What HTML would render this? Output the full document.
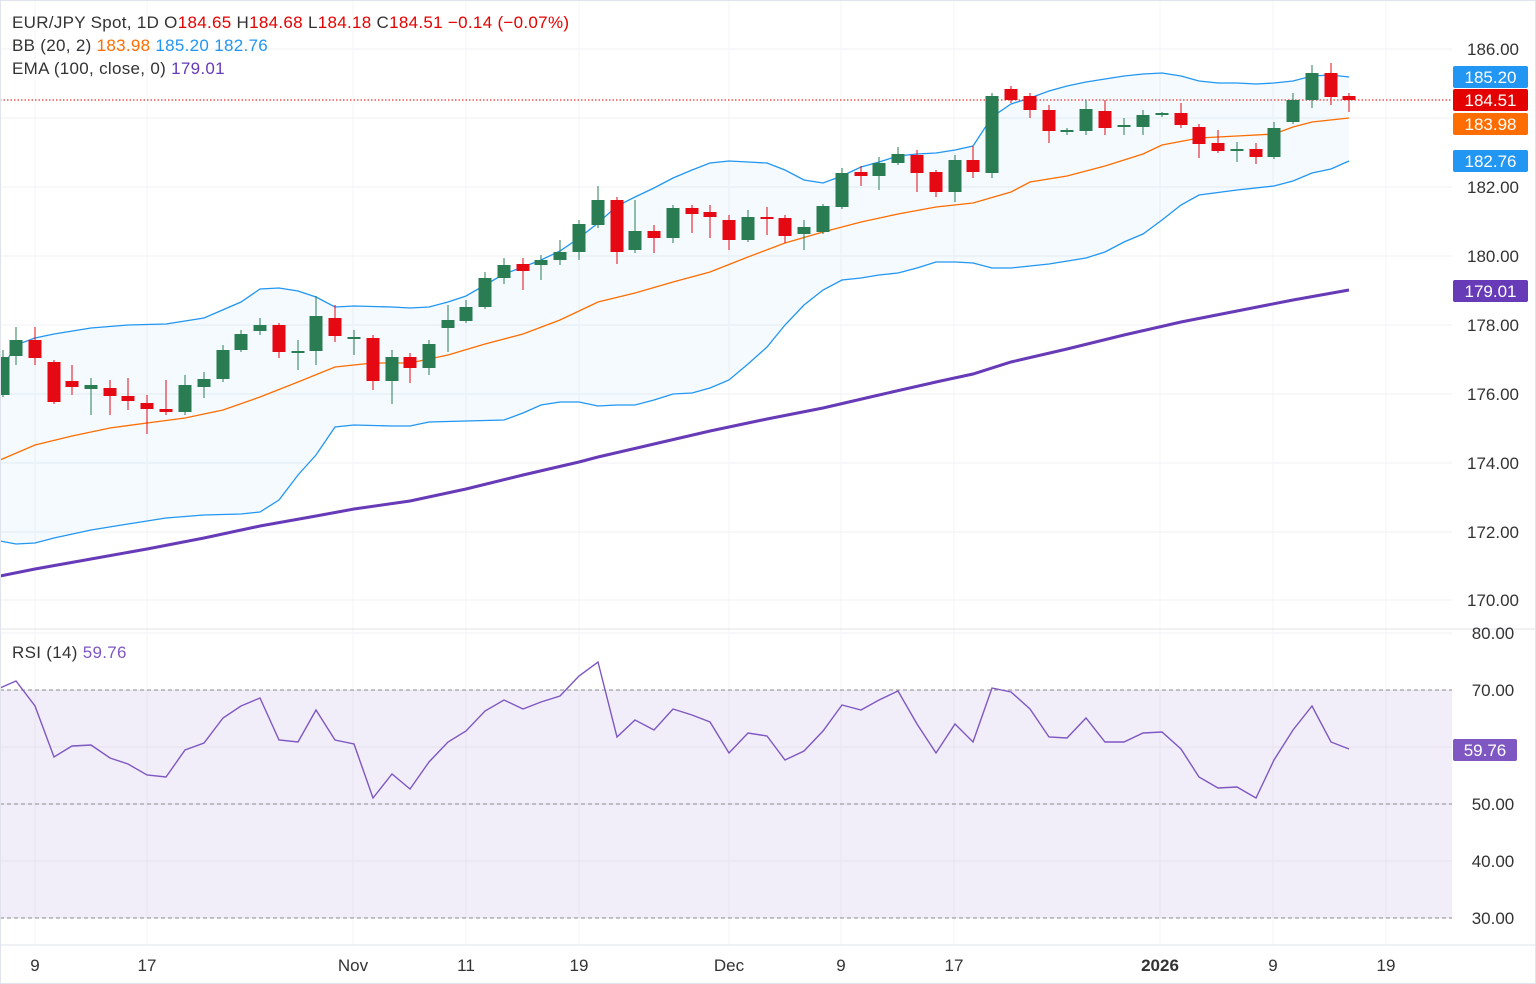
<!DOCTYPE html>
<html><head><meta charset="utf-8"><style>
html,body{margin:0;padding:0;background:#fff;}
svg{display:block;font-family:"Liberation Sans",sans-serif;}
</style></head><body>
<svg id="s" width="1536" height="984" viewBox="0 0 1536 984" xmlns="http://www.w3.org/2000/svg"></svg>
<script>
const s=document.getElementById('s');let h='';
const py=[49,118,187,256,325,394,463,532,600];
py.forEach(y=>h+=`<line x1="0" x2="1452" y1="${y}" y2="${y}" stroke="#f0f1f4"/>`);
[633,690,747,804,861,918].forEach(y=>h+=`<line x1="0" x2="1452" y1="${y}" y2="${y}" stroke="#f0f1f4"/>`);
const tx=[35,147,353,466,579,729,841,954,1160,1273,1386];
tx.forEach(x=>h+=`<line x1="${x}" x2="${x}" y1="0" y2="945" stroke="#f3f4f6"/>`);
h+=`<line x1="0" x2="1536" y1="629" y2="629" stroke="#e0e3eb"/>`;
h+=`<line x1="0" x2="1536" y1="945" y2="945" stroke="#e0e3eb"/>`;
const P=a=>a.map(p=>p.join(',')).join(' ');
const up=[[0,372],[16,345],[35,338],[54,334],[91,328],[128,325],[166,324],[204,318],[241,302],[260,289],[279,288],[298,291],[316,297],[335,307],[354,306],[392,307],[410,308],[429,307],[448,302],[466,296],[485,285],[504,274],[523,267],[541,260],[560,251],[579,238],[598,223],[617,206],[635,197],[654,188],[673,178],[692,170],[710,163],[729,161],[748,162],[767,163],[785,170],[804,180],[823,183],[842,176],[861,167],[879,162],[898,156],[917,154],[936,153],[955,150],[973,146],[992,117],[1011,104],[1030,98],[1049,91],[1067,86],[1086,82],[1105,79],[1124,76],[1143,74],[1162,73],[1181,76],[1199,81],[1218,83],[1237,83],[1256,84],[1274,83],[1293,81],[1312,76],[1331,75],[1349,77]];
const lo=[[0,541],[16,544],[35,543],[54,538],[91,530],[128,524],[166,518],[204,515],[241,514],[260,512],[279,500],[298,475],[316,455],[335,427],[354,425],[392,426],[410,426],[429,422],[466,421],[504,420],[523,413],[541,405],[560,402],[579,402],[598,406],[617,405],[635,405],[654,400],[673,394],[692,393],[710,388],[729,380],[748,364],[767,347],[785,325],[804,305],[823,290],[842,280],[861,278],[879,275],[898,273],[917,268],[936,262],[955,262],[973,263],[992,268],[1011,268],[1030,266],[1049,264],[1086,258],[1105,252],[1124,242],[1143,234],[1162,220],[1181,205],[1199,195],[1237,190],[1274,186],[1293,181],[1312,173],[1331,169],[1349,161]];
const mid=[[0,460],[35,445],[72,436],[110,428],[147,423],[185,418],[223,410],[260,397],[298,382],[335,367],[373,363],[410,363],[448,355],[485,344],[523,334],[560,320],[598,302],[635,293],[673,282],[710,272],[748,257],[785,243],[823,232],[861,222],[898,214],[936,207],[973,203],[1011,192],[1030,182],[1067,176],[1105,166],[1143,154],[1162,145],[1199,138],[1237,136],[1274,134],[1293,127],[1312,122],[1349,118]];
const ema=[[0,576],[35,569],[91,559],[147,549],[204,538],[260,526],[316,516],[354,509],[410,501],[466,489],[523,475],[579,462],[598,457],[654,444],[710,431],[767,419],[823,408],[879,395],[936,382],[973,374],[1011,362],[1067,349],[1124,335],[1181,322],[1237,311],[1293,300],[1349,290]];
h+=`<polygon points="${P(up)} ${P(lo.slice().reverse())}" fill="#2196f3" fill-opacity="0.05"/>`;
h+=`<polyline points="${P(up)}" fill="none" stroke="#2196f3" stroke-width="1.3"/>`;
h+=`<polyline points="${P(lo)}" fill="none" stroke="#2196f3" stroke-width="1.3"/>`;
h+=`<polyline points="${P(mid)}" fill="none" stroke="#ff6d00" stroke-width="1.3"/>`;
h+=`<polyline points="${P(ema)}" fill="none" stroke="#673ab7" stroke-width="3"/>`;
h+=`<line x1="0" x2="1452" y1="100" y2="100" stroke="#e00" stroke-dasharray="1.5,2"/>`;
const C=[[3,357,395,350,397,'g'],[16,340,356,327,365,'g'],[35,340,358,327,365,'r'],[54,362,402,360,404,'r'],[72,381,387,365,395,'r'],[91,385,389,378,415,'g'],[110,388,396,380,415,'r'],[128,396,401,378,410,'r'],[147,403,409,395,434,'r'],[166,409,412,380,415,'r'],[185,385,412,375,415,'g'],[204,379,387,372,398,'g'],[223,350,379,345,382,'g'],[241,334,350,330,352,'g'],[260,325,331,318,335,'g'],[279,325,352,323,358,'r'],[298,351,353,340,370,'g'],[316,316,351,296,365,'g'],[335,318,336,305,342,'r'],[354,337,339,330,355,'g'],[373,338,381,335,390,'r'],[392,357,381,350,404,'g'],[410,357,368,353,383,'r'],[429,344,368,340,375,'g'],[448,320,328,305,352,'g'],[466,307,321,300,323,'g'],[485,278,307,272,309,'g'],[504,265,278,258,284,'g'],[523,264,271,258,290,'r'],[541,260,265,255,280,'g'],[560,252,260,240,265,'g'],[579,224,252,220,260,'g'],[598,200,225,186,228,'g'],[617,200,252,197,264,'r'],[635,231,250,200,253,'g'],[654,231,238,225,253,'r'],[673,208,238,205,243,'g'],[692,208,214,205,233,'r'],[710,212,217,205,238,'r'],[729,220,240,215,250,'r'],[748,217,240,210,242,'g'],[767,217,219,207,235,'r'],[785,218,236,215,243,'r'],[804,227,234,220,250,'g'],[823,206,232,204,234,'g'],[842,173,207,168,209,'g'],[861,172,176,166,186,'r'],[879,163,176,157,190,'g'],[898,154,163,147,165,'g'],[917,155,173,150,192,'r'],[936,172,192,170,197,'r'],[955,160,192,155,202,'g'],[973,160,172,146,178,'r'],[992,96,173,93,178,'g'],[1011,89,100,86,103,'r'],[1030,96,110,93,118,'r'],[1049,110,131,105,143,'r'],[1067,130,132,128,135,'g'],[1086,109,131,100,135,'g'],[1105,111,128,100,135,'r'],[1124,125,127,118,135,'g'],[1143,115,127,110,135,'g'],[1162,113,115,112,117,'g'],[1181,113,125,103,128,'r'],[1199,127,144,124,158,'r'],[1218,143,151,130,153,'r'],[1237,149,151,142,162,'g'],[1256,149,157,143,164,'r'],[1274,128,157,122,159,'g'],[1293,100,122,93,124,'g'],[1312,73,100,65,108,'g'],[1331,73,97,63,105,'r'],[1349,96,100,93,112,'r']];
C.forEach(c=>{const col=c[5]=='g'?'#2a7d52':'#e50914';
h+=`<line x1="${c[0]}" x2="${c[0]}" y1="${c[3]}" y2="${c[4]}" stroke="${col}" stroke-width="1"/>`;
h+=`<rect x="${c[0]-6.5}" y="${c[1]}" width="13" height="${Math.max(1.5,c[2]-c[1])}" fill="${col}"/>`;});
h+=`<rect x="0" y="690" width="1452" height="228" fill="#7e57c2" fill-opacity="0.1"/>`;
[690,804,918].forEach(y=>h+=`<line x1="0" x2="1452" y1="${y}" y2="${y}" stroke="#8a8a8a" stroke-dasharray="4,3"/>`);
const rsi=[[0,688],[16,681],[35,706],[54,757],[72,746],[91,745],[110,758],[128,764],[147,775],[166,777],[185,750],[204,743],[223,718],[241,706],[260,698],[279,740],[298,742],[316,710],[335,740],[354,744],[373,798],[392,774],[410,789],[429,762],[448,742],[466,731],[485,711],[504,700],[523,709],[541,702],[560,696],[579,676],[598,662],[617,737],[635,720],[654,730],[673,709],[692,715],[710,722],[729,753],[748,733],[767,736],[785,760],[804,751],[823,731],[842,705],[861,710],[879,700],[898,691],[917,724],[936,753],[955,724],[973,742],[992,688],[1011,692],[1030,709],[1049,737],[1067,738],[1086,718],[1105,742],[1124,742],[1143,733],[1162,732],[1181,749],[1199,777],[1218,788],[1237,787],[1256,798],[1274,760],[1293,730],[1312,706],[1331,742],[1349,749]];
h+=`<polyline points="${P(rsi)}" fill="none" stroke="#7e57c2" stroke-width="1.4"/>`;
const pl=['186.00','184.00','182.00','180.00','178.00','176.00','174.00','172.00','170.00'];
py.forEach((y,i)=>{if(i==1)return;h+=`<text x="1493" y="${y+6}" font-size="17" fill="#333" text-anchor="middle">${pl[i]}</text>`;});
[['80.00',633],['70.00',690],['50.00',804],['40.00',861],['30.00',918]].forEach(a=>h+=`<text x="1493" y="${a[1]+6}" font-size="17" fill="#333" text-anchor="middle">${a[0]}</text>`);
const box=(y,c,t,w)=>h+=`<rect x="1453" y="${y}" width="${w||75}" height="22" rx="2" fill="${c}"/><text x="${1453+(w||75)/2}" y="${y+17}" font-size="17" fill="#fff" text-anchor="middle">${t}</text>`;
box(66,'#2196f3','185.20');box(89,'#e50000','184.51');box(113,'#ff6d00','183.98');box(150,'#2196f3','182.76');box(280,'#673ab7','179.01');box(739,'#7e57c2','59.76',64);
const tl=['9','17','Nov','11','19','Dec','9','17','2026','9','19'];
tx.forEach((x,i)=>h+=`<text x="${x}" y="971" font-size="17" fill="#333" text-anchor="middle" ${tl[i]=='2026'?'font-weight="bold"':''}>${tl[i]}</text>`);
h+=`<text x="12" y="28" font-size="17" letter-spacing="0.3" fill="#333">EUR/JPY Spot, 1D  O<tspan fill="#e50000">184.65</tspan>  H<tspan fill="#e50000">184.68</tspan>  L<tspan fill="#e50000">184.18</tspan>  C<tspan fill="#e50000">184.51  −0.14 (−0.07%)</tspan></text>`;
h+=`<text x="12" y="51" font-size="17" letter-spacing="0.3" fill="#333">BB (20, 2)  <tspan fill="#ff6d00">183.98</tspan>  <tspan fill="#2196f3">185.20</tspan>  <tspan fill="#2196f3">182.76</tspan></text>`;
h+=`<text x="12" y="74" font-size="17" letter-spacing="0.3" fill="#333">EMA (100, close, 0)  <tspan fill="#673ab7">179.01</tspan></text>`;
h+=`<text x="12" y="658" font-size="17" letter-spacing="0.3" fill="#333">RSI (14)  <tspan fill="#7e57c2">59.76</tspan></text>`;
h+=`<rect x="0.5" y="0.5" width="1535" height="983" fill="none" stroke="#e0e3eb"/>`;
s.innerHTML=h;
</script>
</body></html>
